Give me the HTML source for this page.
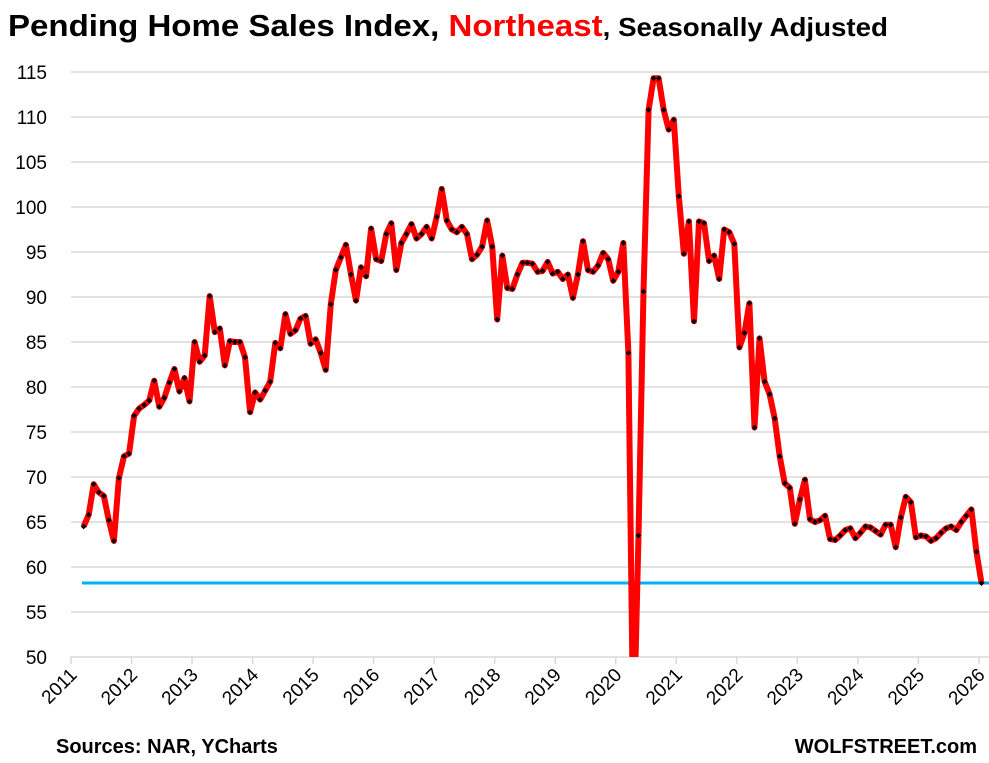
<!DOCTYPE html>
<html><head><meta charset="utf-8"><style>
body{margin:0;background:#fff;}
svg{display:block;font-family:"Liberation Sans",Arial,sans-serif;}
</style></head><body>
<svg id="s" width="989" height="763" xmlns="http://www.w3.org/2000/svg">
<text x="8" y="36" font-size="31" font-weight="bold" fill="#000" textLength="880" lengthAdjust="spacingAndGlyphs">Pending Home Sales Index, <tspan fill="#ff0000">Northeast</tspan><tspan font-size="26">, Seasonally Adjusted</tspan></text>
<g id="grid"></g>
<g id="ax" font-size="19" fill="#000"></g>
<defs><clipPath id="c"><rect x="71" y="0" width="918" height="657"/></clipPath></defs>
<line x1="82" y1="583" x2="989" y2="583" stroke="#00b0f0" stroke-width="3"/>
<g clip-path="url(#c)"><polyline id="ln" fill="none" stroke="#ff0000" stroke-width="6" stroke-linejoin="round"/><g id="dots"></g></g>
<text x="56" y="753" font-size="20" font-weight="bold">Sources: NAR, YCharts</text>
<text x="977" y="753" font-size="20" font-weight="bold" text-anchor="end">WOLFSTREET.com</text>
</svg>
<script>
var ns="http://www.w3.org/2000/svg";
function el(t,a,p,txt){var e=document.createElementNS(ns,t);for(var k in a)e.setAttribute(k,a[k]);if(txt)e.textContent=txt;document.getElementById(p).appendChild(e);return e;}
function Y(v){return 657-(v-50)*9;}
for(var v=50;v<=115;v+=5){el('line',{x1:71,x2:989,y1:Y(v),y2:Y(v),stroke:'#d9d9d9','stroke-width':1.5},'grid');
el('text',{x:47,y:Y(v)+7,'text-anchor':'end'},'ax',String(v));}
var XW=60.53;
for(var yr=2011;yr<=2026;yr++){var x=71+(yr-2011)*XW;el('line',{x1:x,x2:x,y1:657,y2:664,stroke:'#d9d9d9','stroke-width':1.5},'grid');
el('text',{x:0,y:0,'text-anchor':'end',transform:'translate('+(x+7)+',676) rotate(-45)'},'ax',String(yr));}
var d=[64.5,65.8,69.2,68.3,67.9,65.2,62.9,69.9,72.3,72.6,
76.8,77.6,78,78.5,80.7,77.8,78.8,80.5,82,79.5,81,78.4,
85,82.8,83.5,90.1,86.1,86.5,82.4,85.1,85,85,83.3,77.2,
79.4,78.6,79.6,80.6,84.9,84.3,88.1,85.9,86.3,87.6,87.9,84.8,
85.3,83.8,81.9,89.2,93,94.4,95.8,92.5,89.6,93.3,92.3,97.6,
94.2,94,97,98.2,93,96,97,98.1,96.5,97,97.8,96.5,
98.9,102,98.5,97.5,97.2,97.8,97,94.2,94.7,95.6,98.5,95.6,
87.5,94.6,91,90.9,92.5,93.8,93.8,93.7,92.8,92.9,93.9,92.6,
92.8,92,92.5,89.9,92.5,96.2,93,92.8,93.5,94.9,94.2,91.8,
92.8,96,83.8,40,63.5,90.6,110.8,114.3,114.3,110.8,108.6,109.7,
101.2,94.8,98.4,87.3,98.4,98.2,94,94.6,92,97.5,97.2,95.9,
84.4,86,89.3,75.5,85.4,80.6,79.2,76.5,72.3,69.3,68.8,64.8,
67.5,69.7,65.3,65,65.2,65.7,63.1,63,63.5,64.1,64.3,63.2,
63.8,64.5,64.4,64,63.6,64.7,64.7,62.2,65.5,67.8,67.2,63.3,
63.5,63.4,62.9,63.2,63.8,64.3,64.5,64.1,65,65.7,66.4,61.7,58.2];
var pts=[];
for(var i=0;i<d.length;i++){var m=i+2;var x=71+(m+0.5)*XW/12;var y=Y(d[i]);pts.push(x.toFixed(1)+','+y.toFixed(1));
el('rect',{x:x-2,y:y-2,width:4,height:4,fill:'#000',transform:'rotate(45 '+x+' '+y+')'},'dots');}
document.getElementById('ln').setAttribute('points',pts.join(' '));
</script>
</body></html>
